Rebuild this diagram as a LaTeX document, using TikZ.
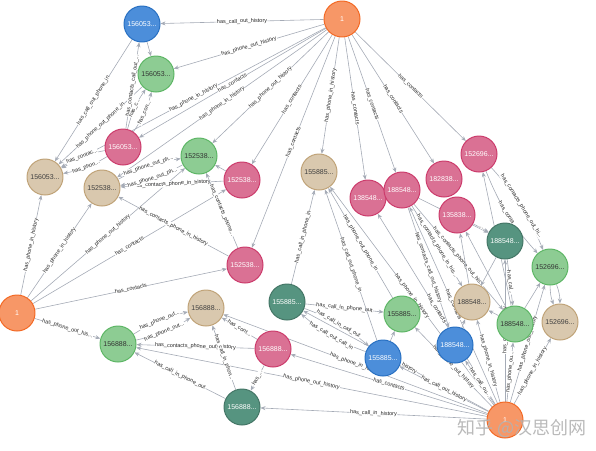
\documentclass[tikz,border=0pt]{standalone}
\usepackage{fontspec}
\setmainfont{Liberation Sans}
\newfontfamily\cjkfont{Noto Sans CJK SC}
\usetikzlibrary{arrows.meta,backgrounds}
\newcommand\trc{...}
\definecolor{edgegray}{HTML}{A5ABB6}
\definecolor{orFill}{HTML}{F79767}\definecolor{orLine}{HTML}{F36924}
\definecolor{blFill}{HTML}{4C8EDA}\definecolor{blLine}{HTML}{2870C2}
\definecolor{grFill}{HTML}{8DCC93}\definecolor{grLine}{HTML}{5DB665}
\definecolor{tnFill}{HTML}{D9C8AE}\definecolor{tnLine}{HTML}{C0A378}
\definecolor{pkFill}{HTML}{DA7194}\definecolor{pkLine}{HTML}{CC3C6C}
\definecolor{dgFill}{HTML}{569480}\definecolor{dgLine}{HTML}{447666}
\tikzset{
  pnode/.style={circle, minimum size=36pt, inner sep=0pt, line width=1pt, font=\fontsize{7}{8}\selectfont},
  nOr/.style={pnode, fill=orFill, draw=orLine, text=white},
  nBl/.style={pnode, fill=blFill, draw=blLine, text=white},
  nGr/.style={pnode, fill=grFill, draw=grLine, text=black!80},
  nTn/.style={pnode, fill=tnFill, draw=tnLine, text=black!75},
  nPk/.style={pnode, fill=pkFill, draw=pkLine, text=white},
  nDg/.style={pnode, fill=dgFill, draw=dgLine, text=white},
  rel/.style={->, draw=edgegray, line width=0.6pt},
  lbl/.style={sloped, midway, fill=white, inner sep=0.4pt, font=\fontsize{5.5}{6}\selectfont, text=black!85},
}
\begin{document}
\begin{tikzpicture}[x=1pt, y=-1pt, line join=round, >={Stealth[length=5pt,width=4pt]}]
\useasboundingbox (0,0) rectangle (596,450);
% persons
\node[nOr] (oA) at (342,19) {1};
\node[nOr] (oB) at (17,313) {1};
\node[nOr] (oC) at (505,420) {1};
% 156053
\node[nBl] (bl1) at (142,24) {156053\trc};
\node[nGr] (gr1) at (156,74) {156053\trc};
\node[nPk] (pk1) at (123,147) {156053\trc};
\node[nTn] (tn1) at (45,177) {156053\trc};
% 152538
\node[nTn] (tn2) at (102,188) {152538\trc};
\node[nGr] (gr2) at (199,156) {152538\trc};
\node[nPk] (pk2) at (242,180) {152538\trc};
\node[nPk] (pk3) at (245,265) {152538\trc};
% 155885
\node[nTn] (tn3) at (319,172) {155885\trc};
\node[nDg] (dg1) at (287,302) {155885\trc};
\node[nGr] (gr3) at (402,314) {155885\trc};
\node[nBl] (bl2) at (383,358) {155885\trc};
% 156888
\node[nTn] (tn4) at (206,308) {156888\trc};
\node[nGr] (gr4) at (118,344) {156888\trc};
\node[nPk] (pk4) at (273,349) {156888\trc};
\node[nDg] (dg2) at (242,407) {156888\trc};
% 188548 and others
\node[nPk] (pk5) at (368,198) {138548\trc};
\node[nPk] (pk6) at (402,190) {188548\trc};
\node[nPk] (pk7) at (444,179) {182838\trc};
\node[nPk] (pk8) at (457,215) {135838\trc};
\node[nDg] (dg3) at (505,241) {188548\trc};
\node[nTn] (tn5) at (472,302) {188548\trc};
\node[nGr] (gr5) at (515,324) {188548\trc};
\node[nBl] (bl3) at (455,345) {188548\trc};
% 152696
\node[nPk] (pk9) at (479,154) {152696\trc};
\node[nGr] (gr6) at (550,267) {152696\trc};
\node[nTn] (tn6) at (560,322) {152696\trc};
% relations
\begin{scope}[on background layer]
\foreach \s/\t/\l in {oA/bl1/has\_call\_out\_history, oA/gr1/has\_phone\_out\_history,
  oA/tn1/has\_phone\_in\_history, oA/pk1/has\_contacts, oA/tn2/has\_phone\_in\_history,
  oA/gr2/has\_phone\_out\_history, oA/pk2/has\_contacts, oA/pk3/has\_contacts,
  oA/tn3/has\_phone\_in\_history, oA/pk5/has\_contacts, oA/pk6/has\_contacts,
  oA/pk7/has\_contacts, oA/pk9/has\_contacts,
  oB/tn1/has\_phone\_in\_history, oB/tn2/has\_phone\_in\_history, oB/gr2/has\_phone\_out\_history,
  oB/pk2/has\_contacts, oB/pk3/has\_contacts, oB/gr4/has\_phone\_out\_his\trc,
  oC/dg2/has\_call\_in\_history, oC/gr4/has\_phone\_out\_history, oC/tn4/has\_phone\_in\_history,
  oC/pk4/has\_contacts, oC/dg1/has\_call\_in\_history, oC/bl2/has\_call\_out\_history,
  oC/gr3/has\_phone\_out\_history, oC/tn3/has\_phone\_in\_history, oC/pk5/has\_contacts,
  oC/pk6/has\_contacts, oC/bl3/has\_call\_ou\trc, oC/tn5/has\_phone\_in\_history,
  oC/gr5/has\_phone\_ou\trc, oC/dg3/has\_call\_in\_history, oC/gr6/has\_phone\_out\_history,
  oC/tn6/has\_phone\_in\_history,
  bl1/tn1/has\_call\_out\_phone\_in, gr1/tn1/has\_phone\_out\_phone\_in,
  pk1/bl1/has\_contacts\_call\_out\_\trc, pk2/tn2/has\_contacts\_phone\_in\_history,
  pk3/tn2/has\_contacts\_phone\_in\_history, pk3/gr2/has\_contacts\_phone\trc,
  dg1/tn3/has\_call\_in\_phone\_in, dg1/gr3/has\_call\_in\_phone\_out,
  gr3/tn3/has\_phone\_out\_phone\_in, bl2/tn3/has\_call\_out\_phone\_in,
  pk4/gr4/has\_contacts\_phone\_out\_history, pk4/tn4/has\_cont\trc, pk4/dg2/has\_\trc,
  dg2/tn4/has\_call\_in\_phon\trc, dg2/gr4/has\_call\_in\_phone\_out,
  pk6/bl3/has\_contacts\_call\_out\_history, pk6/tn5/has\_contacts\_phone\_in\_his\trc,
  pk6/gr5/has\_contacts\_phone\_out\_his\trc, pk6/dg3/has\_co\trc, dg3/gr5/has\_cal\trc,
  pk8/dg3/\trc}
  {\draw[rel] (\s) -- node[lbl]{\l} (\t);}
% pairs with two relations
\foreach \s/\t/\l/\m in {pk1/gr1/has\_c\trc/has\_con\trc, pk1/tn1/has\_phon\trc/has\_contac\trc,
  gr4/tn4/has\_phone\_out\trc/has\_phone\_out\trc, pk9/gr6/has\_contacts\_phone\_out\_hi\trc/has\_conta\trc}
  {\draw[rel] (\s) to[bend left=10] node[lbl]{\l} (\t);
   \draw[rel] (\s) to[bend right=10] node[lbl]{\m} (\t);}
\draw[rel] (gr2) to[bend left=10] node[lbl]{has\_phone\_out\_ph\trc} (tn2);
\draw[rel] (tn2) to[bend left=10] node[lbl]{has\_phone\_out\_ph\trc} (gr2);
\draw[rel] (dg1) to[bend left=10] node[lbl]{has\_call\_in\_call\_out} (bl2);
\draw[rel] (bl2) to[bend left=10] node[lbl]{has\_call\_out\_call\_in} (dg1);
\draw[rel] (gr6) to[bend left=10] (tn6);
\draw[rel] (gr6) to[bend right=10] (tn6);
\foreach \s/\t in {bl1/gr1, pk2/gr2, bl2/gr3, gr5/pk9, tn5/pk8, gr5/pk8, gr5/gr6,
  dg3/tn5, bl3/tn5, gr5/tn5}
  {\draw[rel] (\s) -- (\t);}
\end{scope}
% watermark
\node[font=\cjkfont\fontsize{18}{20}\selectfont, text=gray!60, opacity=0.9] (mark) at (522,428) {知乎 @汉思创网};
\end{tikzpicture}
\end{document}
